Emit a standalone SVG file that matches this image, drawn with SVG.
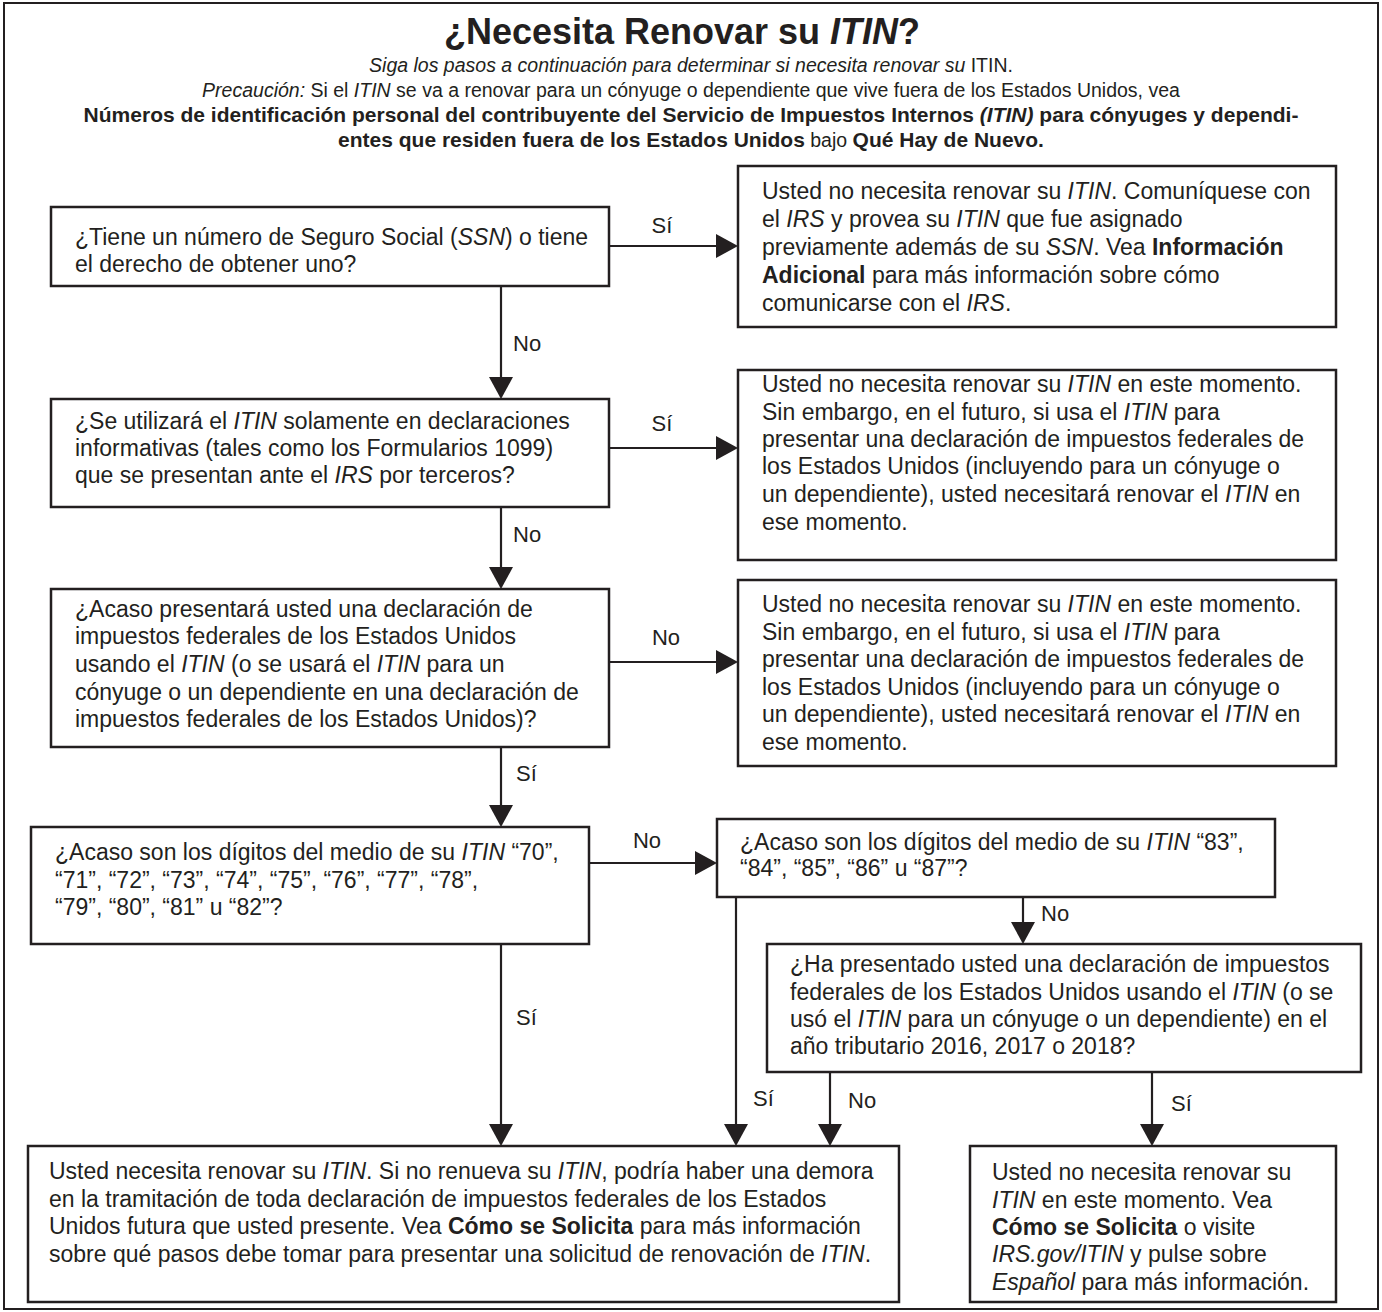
<svg xmlns="http://www.w3.org/2000/svg" width="1382" height="1312" viewBox="0 0 1382 1312">
<defs>
<marker id="ah" markerUnits="userSpaceOnUse" markerWidth="24" markerHeight="26" refX="20" refY="12" orient="auto">
<path d="M0,0 L22,12 L0,24 Z" fill="#231f20"/>
</marker>
<style>
text{font-family:"Liberation Sans",Arial,Helvetica,sans-serif;fill:#231f20;}
.t{font-size:23px;}
.h{font-size:19.5px;}
.hb{font-size:21px;font-weight:bold;}
.title{font-size:36px;font-weight:bold;}
.i{font-style:italic;}
.b{font-weight:bold;}
.box{fill:#fff;stroke:#231f20;stroke-width:2.5;}
.frame{fill:#fff;stroke:#231f20;stroke-width:2;}
.c{fill:none;stroke:#231f20;stroke-width:2.2;}
.lbl{font-size:22px;}
</style>
</defs>
<rect class="frame" x="4" y="3" width="1374" height="1306"/>

<g id="header" text-anchor="middle">
<text class="title" x="682" y="44">¿Necesita Renovar su <tspan class="i">ITIN</tspan>?</text>
<text class="h" x="691" y="72"><tspan class="i">Siga los pasos a continuación para determinar si necesita renovar su</tspan> ITIN.</text>
<text class="h" x="691" y="97"><tspan class="i">Precaución:</tspan> Si el <tspan class="i">ITIN</tspan> se va a renovar para un cónyuge o dependiente que vive fuera de los Estados Unidos, vea</text>
<text class="hb" x="691" y="122">Números de identificación personal del contribuyente del Servicio de Impuestos Internos <tspan class="i">(ITIN)</tspan> para cónyuges y dependi-</text>
<text class="h" x="691" y="147"><tspan class="hb">entes que residen fuera de los Estados Unidos</tspan> bajo <tspan class="hb">Qué Hay de Nuevo.</tspan></text>
</g>

<g id="connectors">
<line class="c" x1="609" y1="246" x2="736" y2="246" marker-end="url(#ah)"/>
<line class="c" x1="501" y1="286" x2="501" y2="397" marker-end="url(#ah)"/>
<line class="c" x1="609" y1="448" x2="736" y2="448" marker-end="url(#ah)"/>
<line class="c" x1="501" y1="507" x2="501" y2="587" marker-end="url(#ah)"/>
<line class="c" x1="609" y1="662" x2="736" y2="662" marker-end="url(#ah)"/>
<line class="c" x1="501" y1="747" x2="501" y2="825" marker-end="url(#ah)"/>
<line class="c" x1="589" y1="863" x2="715" y2="863" marker-end="url(#ah)"/>
<line class="c" x1="501" y1="944" x2="501" y2="1144" marker-end="url(#ah)"/>
<line class="c" x1="736" y1="897" x2="736" y2="1144" marker-end="url(#ah)"/>
<line class="c" x1="1023" y1="897" x2="1023" y2="942" marker-end="url(#ah)"/>
<line class="c" x1="830" y1="1072" x2="830" y2="1144" marker-end="url(#ah)"/>
<line class="c" x1="1152" y1="1072" x2="1152" y2="1144" marker-end="url(#ah)"/>
<text class="lbl" x="662" y="233" text-anchor="middle">Sí</text>
<text class="lbl" x="513" y="351">No</text>
<text class="lbl" x="662" y="431" text-anchor="middle">Sí</text>
<text class="lbl" x="513" y="542">No</text>
<text class="lbl" x="666" y="645" text-anchor="middle">No</text>
<text class="lbl" x="516" y="781">Sí</text>
<text class="lbl" x="647" y="848" text-anchor="middle">No</text>
<text class="lbl" x="516" y="1025">Sí</text>
<text class="lbl" x="753" y="1106">Sí</text>
<text class="lbl" x="1041" y="921">No</text>
<text class="lbl" x="848" y="1108">No</text>
<text class="lbl" x="1171" y="1111">Sí</text>
</g>

<g id="q-ssn">
<rect class="box" x="51" y="207" width="558" height="79"/>
<text class="t" x="75" y="245">¿Tiene un número de Seguro Social (<tspan class="i">SSN</tspan>) o tiene</text>
<text class="t" x="75" y="272">el derecho de obtener uno?</text>
</g>

<g id="r-ssn">
<rect class="box" x="738" y="166" width="598" height="161"/>
<text class="t" x="762" y="199">Usted no necesita renovar su <tspan class="i">ITIN</tspan>. Comuníquese con</text>
<text class="t" x="762" y="227">el <tspan class="i">IRS</tspan> y provea su <tspan class="i">ITIN</tspan> que fue asignado</text>
<text class="t" x="762" y="255">previamente además de su <tspan class="i">SSN</tspan>. Vea <tspan class="b">Información</tspan></text>
<text class="t" x="762" y="283"><tspan class="b">Adicional</tspan> para más información sobre cómo</text>
<text class="t" x="762" y="311">comunicarse con el <tspan class="i">IRS</tspan>.</text>
</g>

<g id="q-info">
<rect class="box" x="51" y="399" width="558" height="108"/>
<text class="t" x="75" y="429">¿Se utilizará el <tspan class="i">ITIN</tspan> solamente en declaraciones</text>
<text class="t" x="75" y="456">informativas (tales como los Formularios 1099)</text>
<text class="t" x="75" y="483">que se presentan ante el <tspan class="i">IRS</tspan> por terceros?</text>
</g>

<g id="r-info">
<rect class="box" x="738" y="370" width="598" height="190"/>
<text class="t" x="762" y="392">Usted no necesita renovar su <tspan class="i">ITIN</tspan> en este momento.</text>
<text class="t" x="762" y="420">Sin embargo, en el futuro, si usa el <tspan class="i">ITIN</tspan> para</text>
<text class="t" x="762" y="447">presentar una declaración de impuestos federales de</text>
<text class="t" x="762" y="474">los Estados Unidos (incluyendo para un cónyuge o</text>
<text class="t" x="762" y="502">un dependiente), usted necesitará renovar el <tspan class="i">ITIN</tspan> en</text>
<text class="t" x="762" y="530">ese momento.</text>
</g>

<g id="q-file">
<rect class="box" x="51" y="589" width="558" height="158"/>
<text class="t" x="75" y="617">¿Acaso presentará usted una declaración de</text>
<text class="t" x="75" y="644">impuestos federales de los Estados Unidos</text>
<text class="t" x="75" y="672">usando el <tspan class="i">ITIN</tspan> (o se usará el <tspan class="i">ITIN</tspan> para un</text>
<text class="t" x="75" y="700">cónyuge o un dependiente en una declaración de</text>
<text class="t" x="75" y="727">impuestos federales de los Estados Unidos)?</text>
</g>

<g id="r-file">
<rect class="box" x="738" y="580" width="598" height="186"/>
<text class="t" x="762" y="612">Usted no necesita renovar su <tspan class="i">ITIN</tspan> en este momento.</text>
<text class="t" x="762" y="640">Sin embargo, en el futuro, si usa el <tspan class="i">ITIN</tspan> para</text>
<text class="t" x="762" y="667">presentar una declaración de impuestos federales de</text>
<text class="t" x="762" y="695">los Estados Unidos (incluyendo para un cónyuge o</text>
<text class="t" x="762" y="722">un dependiente), usted necesitará renovar el <tspan class="i">ITIN</tspan> en</text>
<text class="t" x="762" y="750">ese momento.</text>
</g>

<g id="q-70-82">
<rect class="box" x="31" y="827" width="558" height="117"/>
<text class="t" x="55" y="860">¿Acaso son los dígitos del medio de su <tspan class="i">ITIN</tspan> “70”,</text>
<text class="t" x="55" y="888">“71”, “72”, “73”, “74”, “75”, “76”, “77”, “78”,</text>
<text class="t" x="55" y="915">“79”, “80”, “81” u “82”?</text>
</g>

<g id="q-83-87">
<rect class="box" x="717" y="819" width="558" height="78"/>
<text class="t" x="740" y="850">¿Acaso son los dígitos del medio de su <tspan class="i">ITIN</tspan> “83”,</text>
<text class="t" x="740" y="876">“84”, “85”, “86” u “87”?</text>
</g>

<g id="q-filed">
<rect class="box" x="767" y="944" width="594" height="128"/>
<text class="t" x="790" y="972">¿Ha presentado usted una declaración de impuestos</text>
<text class="t" x="790" y="1000">federales de los Estados Unidos usando el <tspan class="i">ITIN</tspan> (o se</text>
<text class="t" x="790" y="1027">usó el <tspan class="i">ITIN</tspan> para un cónyuge o un dependiente) en el</text>
<text class="t" x="790" y="1054">año tributario 2016, 2017 o 2018?</text>
</g>

<g id="r-renew">
<rect class="box" x="28" y="1146" width="871" height="156"/>
<text class="t" x="49" y="1179">Usted necesita renovar su <tspan class="i">ITIN</tspan>. Si no renueva su <tspan class="i">ITIN</tspan>, podría haber una demora</text>
<text class="t" x="49" y="1207">en la tramitación de toda declaración de impuestos federales de los Estados</text>
<text class="t" x="49" y="1234">Unidos futura que usted presente. Vea <tspan class="b">Cómo se Solicita</tspan> para más información</text>
<text class="t" x="49" y="1262">sobre qué pasos debe tomar para presentar una solicitud de renovación de <tspan class="i">ITIN</tspan>.</text>
</g>

<g id="r-norenew">
<rect class="box" x="970" y="1146" width="366" height="156"/>
<text class="t" x="992" y="1180">Usted no necesita renovar su</text>
<text class="t" x="992" y="1208"><tspan class="i">ITIN</tspan> en este momento. Vea</text>
<text class="t" x="992" y="1235"><tspan class="b">Cómo se Solicita</tspan> o visite</text>
<text class="t" x="992" y="1262"><tspan class="i">IRS.gov/ITIN</tspan> y pulse sobre</text>
<text class="t" x="992" y="1290"><tspan class="i">Español</tspan> para más información.</text>
</g>
</svg>
